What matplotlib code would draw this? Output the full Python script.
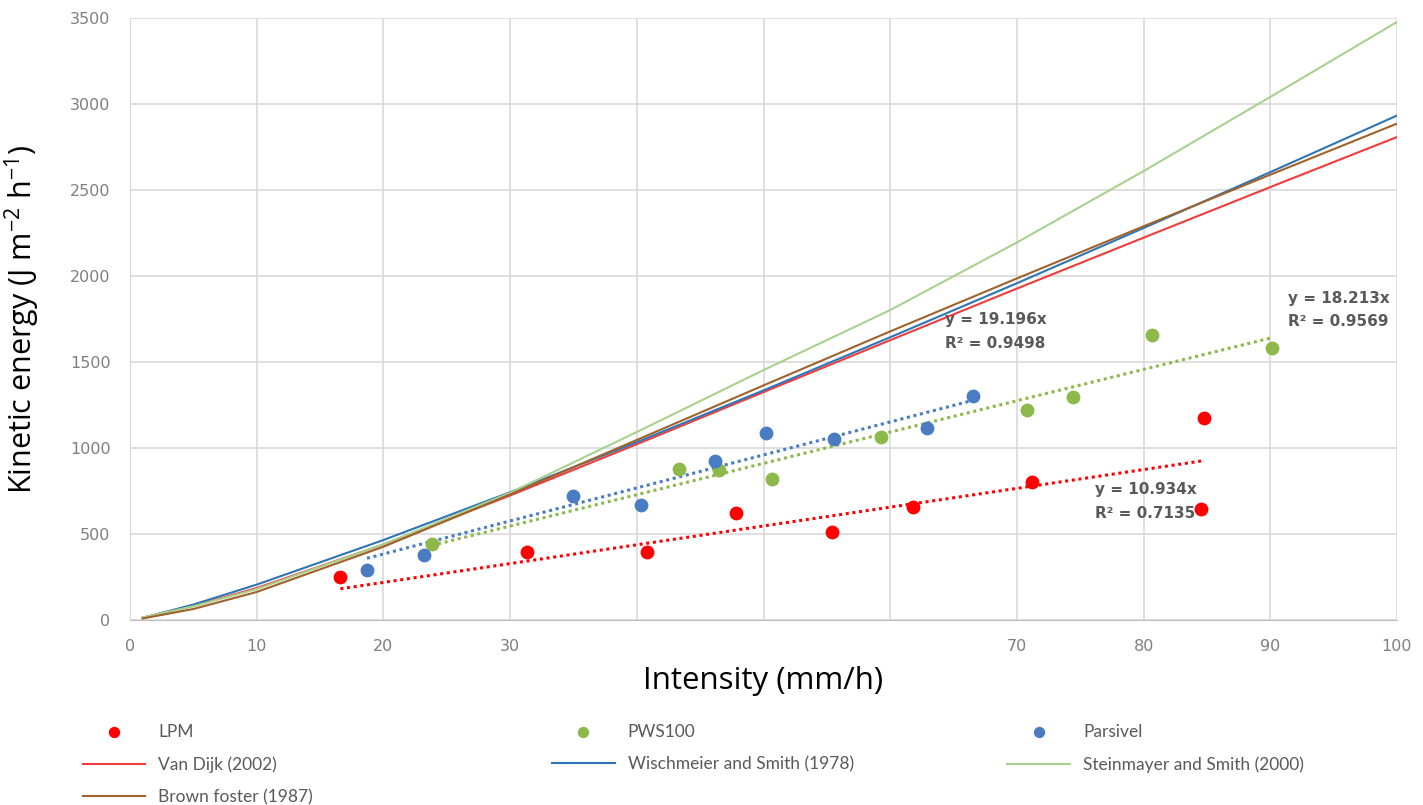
import matplotlib.pyplot as plt

plt.rcParams['mathtext.default'] = 'regular'

# measured points (intensity mm/h, kinetic energy J m-2 h-1)
lpm_x = [16.6, 31.3, 40.8, 47.8, 55.4, 61.8, 71.2, 84.8, 84.5]
lpm_y = [250, 395, 395, 622, 512, 657, 802, 1174, 645]

pws_x = [23.8, 43.3, 46.5, 50.7, 59.3, 70.8, 74.4, 80.7, 90.1]
pws_y = [442, 878, 872, 820, 1064, 1221, 1297, 1657, 1581]

par_x = [18.7, 23.2, 35.0, 40.3, 46.2, 50.2, 55.6, 62.9, 66.5]
par_y = [291, 378, 721, 669, 924, 1087, 1052, 1116, 1302]

# theoretical curves read at these intensities
curve_i = [1, 5, 10, 20, 30, 40, 50, 60, 70, 80, 90, 100]
van_dijk = [14, 82, 186, 439, 724, 1022, 1325, 1627, 1927, 2223, 2517, 2808]
wischmeier = [12, 90, 206, 465, 743, 1034, 1335, 1644, 1958, 2279, 2604, 2933]
steinmayer = [15, 80, 180, 440, 740, 1093, 1453, 1802, 2195, 2610, 3041, 3477]
brown = [9, 64, 163, 426, 730, 1047, 1364, 1678, 1986, 2289, 2589, 2886]

# trendline slopes (through origin) and R2
lpm_slope, lpm_r2 = 10.934, 0.7135
pws_slope, pws_r2 = 18.213, 0.9569
par_slope, par_r2 = 19.196, 0.9498

x_ticks = [0, 10, 20, 30, 40, 50, 60, 70, 80, 90, 100]
x_ticklabels = ['0', '10', '20', '30', '', '', '', '70', '80', '90', '100']
y_ticks = [0, 500, 1000, 1500, 2000, 2500, 3000, 3500]

RED = '#FF0000'
GREEN = '#8DB84A'
BLUE = '#4A7CC4'
GRAY = '#595959'

fig = plt.figure(figsize=(14.23, 8.05), dpi=100)
ax = fig.add_axes([0.0914, 0.2298, 0.8903, 0.7478])

h_lpm = ax.scatter(lpm_x, lpm_y, s=80, color=RED, zorder=4, label='LPM')
h_pws = ax.scatter(pws_x, pws_y, s=80, color=GREEN, zorder=4, label='PWS100')
h_par = ax.scatter(par_x, par_y, s=80, color=BLUE, zorder=4, label='Parsivel')

h_vd, = ax.plot(curve_i, van_dijk, color='#F03C3C', lw=1.5, label='Van Dijk (2002)')
h_ws, = ax.plot(curve_i, wischmeier, color='#2F75B5', lw=1.5, label='Wischmeier and Smith (1978)')
h_st, = ax.plot(curve_i, steinmayer, color='#A9D18E', lw=1.5, label='Steinmayer and Smith (2000)')
h_bf, = ax.plot(curve_i, brown, color='#A0622D', lw=1.5, label='Brown foster (1987)')

# dotted linear trendlines
for xs, slope, col in [(lpm_x, lpm_slope, RED), (pws_x, pws_slope, GREEN), (par_x, par_slope, BLUE)]:
    x0, x1 = min(xs), max(xs)
    ax.plot([x0, x1], [slope * x0, slope * x1], color=col, lw=2.2, ls=(0, (1, 1.2)), zorder=3)

lab = dict(color=GRAY, fontsize=11, fontweight='bold', va='top', ha='left', linespacing=1.7)
ax.text(64.3, 1790, f'y = {par_slope}x\nR² = {par_r2}', **lab)
ax.text(91.4, 1915, f'y = {pws_slope}x\nR² = {pws_r2}', **lab)
ax.text(76.2, 800, f'y = {lpm_slope}x\nR² = {lpm_r2}', **lab)

ax.set_xlim(0, 100)
ax.set_ylim(0, 3500)
ax.set_xticks(x_ticks)
ax.set_xticklabels(x_ticklabels)
ax.set_yticks(y_ticks)
ax.tick_params(colors='#7F7F7F', labelsize=11.5, length=0, pad=14)
ax.grid(True, color='#D9D9D9', lw=1.2)
ax.set_axisbelow(True)
for s in ax.spines.values():
    s.set_visible(False)
ax.spines['bottom'].set_visible(True)
ax.spines['bottom'].set_color('#BFBFBF')
ax.spines['left'].set_visible(True)
ax.spines['left'].set_color('#D9D9D9')

ax.set_xlabel('Intensity (mm/h)', fontsize=22.5, family='Open Sans', labelpad=8)
ax.set_ylabel('Kinetic energy (J m$^{-2}$ h$^{-1}$)', fontsize=22, family='Open Sans', labelpad=20)

# legend: three columns placed like the original
columns = [([h_lpm, h_vd, h_bf], 0.058), ([h_pws, h_ws], 0.388), ([h_par, h_st], 0.708)]
for hs, xpos in columns:
    fig.legend(handles=hs, labels=[h.get_label() for h in hs], loc='upper left',
               bbox_to_anchor=(xpos, 0.101), frameon=False, borderaxespad=0,
               borderpad=0, prop={'family': 'Lato', 'size': 12.5}, labelcolor=GRAY,
               handlelength=3.6, handletextpad=0.75, labelspacing=0.95,
               markerscale=0.8)

fig.savefig('out.png', dpi=100)
